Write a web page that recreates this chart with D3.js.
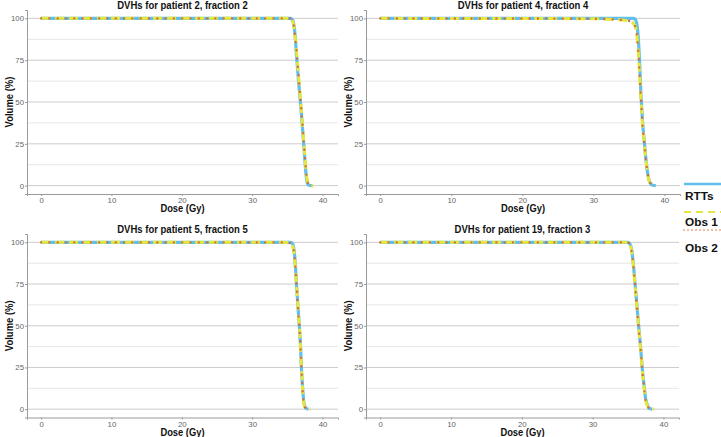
<!DOCTYPE html>
<html lang="en">
<head>
<meta charset="UTF-8">
<title>DVHs</title>
<script src="https://d3js.org/d3.v7.min.js"></script>
<style>
  body { margin: 0; background: #fff; }
  svg { font-family: "Liberation Sans", Arial, sans-serif; }
</style>
</head>
<body>
<div id="chart"></div>
<script>
// panel titles
const titles = [
    "DVHs for patient 2, fraction 2",
    "DVHs for patient 4, fraction 4",
    "DVHs for patient 5, fraction 5",
    "DVHs for patient 19, fraction 3"
];
const seriesNames = ["RTTs", "Obs 1", "Obs 2"];
const xTicks = [0, 10, 20, 30, 40];
const yTicks = [0, 25, 50, 75, 100];
const yMinor = [12.5, 37.5, 62.5, 87.5];

// dose (Gy) / volume (%), one array per panel and series
const p1Rtt  = [[0,100],[35.4,100],[35.7,99.5],[35.9,97],[36.1,90],[36.3,78],[36.6,62],[36.9,48],[37.2,32],[37.5,15],[37.7,5],[37.9,1],[38.2,0.1],[38.6,0]];
const p1Obs1 = [[0,100],[35.3,100],[35.6,99.3],[35.9,96],[36.1,89],[36.4,76],[36.7,60],[37.0,45],[37.3,28],[37.6,12],[37.8,4],[38.0,1],[38.3,0.1],[38.7,0]];
const p1Obs2 = [[0,100],[35.3,100],[35.6,99.3],[35.9,96],[36.1,89],[36.4,76],[36.7,60],[37.0,45],[37.3,28],[37.6,12],[37.8,4],[38.0,1],[38.3,0.1],[38.4,0]];

const p2Rtt  = [[0,100],[35.6,100],[35.9,99.5],[36.1,97],[36.3,90],[36.5,75],[36.7,55],[36.9,40],[37.2,25],[37.5,12],[37.8,4],[38.1,1],[38.4,0.2],[38.8,0]];
const p2Obs1 = [[0,100],[30,99.8],[33,99.3],[34.5,98.8],[35.3,98],[35.8,96],[36.1,91],[36.3,82],[36.5,68],[36.7,52],[36.9,38],[37.2,24],[37.5,12],[37.8,4],[38.1,1],[38.6,0]];
const p2Obs2 = [[0,100],[30,99.8],[33,99.3],[34.5,98.8],[35.3,98],[35.8,96],[36.1,91],[36.3,82],[36.5,68],[36.7,52],[36.9,38],[37.2,24],[37.5,12],[37.8,4],[38.1,1],[38.5,0]];

const p3Rtt  = [[0,100],[35.4,100],[35.7,99.5],[35.9,97],[36.1,89],[36.3,75],[36.5,62],[36.7,50],[36.9,36],[37.0,25],[37.2,11],[37.4,3],[37.7,0.4],[38.0,0]];
const p3Obs1 = [[0,100],[34.5,100],[35.3,99.5],[35.8,97],[36.1,88],[36.3,75],[36.5,62],[36.7,50],[36.9,35],[37.0,25],[37.2,10],[37.4,2],[37.7,0.3],[38.3,0]];
const p3Obs2 = [[0,100],[34.8,100],[35.4,99.5],[35.8,97],[36.1,88],[36.3,75],[36.5,62],[36.7,50],[36.9,35],[37.0,25],[37.2,10],[37.4,2],[37.7,0.3],[38.2,0]];

const p4Rtt  = [[0,100],[34.9,100],[35.2,99.5],[35.5,96],[35.8,85],[36.0,75],[36.3,60],[36.5,50],[36.8,36],[37.0,25],[37.3,13],[37.5,6],[37.8,2],[38.0,0.5],[38.4,0]];
const p4Obs1 = [[0,100],[34.9,100],[35.2,99.3],[35.5,95],[35.8,84],[36.0,74],[36.3,59],[36.5,49],[36.8,35],[37.0,24],[37.3,12],[37.5,5],[37.8,1.5],[38.0,0.4],[38.7,0]];
const p4Obs2 = [[0,100],[34.9,100],[35.2,99.3],[35.5,95],[35.8,84],[36.0,74],[36.3,59],[36.5,49],[36.8,35],[37.0,24],[37.3,12],[37.5,5],[37.8,1.5],[38.0,0.4],[38.5,0]];

const panelData = [
    [p1Rtt, p1Obs1, p1Obs2],
    [p2Rtt, p2Obs1, p2Obs2],
    [p3Rtt, p3Obs1, p3Obs2],
    [p4Rtt, p4Obs1, p4Obs2]
];

const width = 721;
const height = 437;

// plot boxes for the four panels
const boxes = [
    { x0: 27,  x1: 338, y0: 10,  y1: 194 },
    { x0: 366, x1: 680, y0: 10,  y1: 194 },
    { x0: 27,  x1: 338, y0: 234, y1: 417.5 },
    { x0: 366, x1: 679, y0: 234, y1: 417.5 }
];

// line styles per series
const styles = [
    { color: "#62bfec", width: 3.2, dash: null, cap: "butt" },
    { color: "#e6e63c", width: 3.0, dash: "9,5", cap: "butt" },
    { color: "#cd6f3c", width: 2.4, dash: "0,8.3", cap: "round" }
];

const svg = d3.select("#chart").append("svg")
    .attr("width", width)
    .attr("height", height);

// the titles in the picture are narrower than the font, squeeze them a bit
function squeeze(sel, f) {
    sel.each(function() {
        const w = this.getComputedTextLength();
        d3.select(this).attr("textLength", w * f).attr("lengthAdjust", "spacingAndGlyphs");
    });
}

boxes.forEach((b, i) => {
    const g = svg.append("g");

    const x = d3.scaleLinear().domain([-2, 42.2]).range([b.x0, b.x1]);
    const y = d3.scaleLinear().domain([-5, 105]).range([b.y1, b.y0]);

    // gridlines
    g.selectAll(".minor").data(yMinor).enter().append("line")
        .attr("x1", b.x0).attr("x2", b.x1)
        .attr("y1", d => y(d)).attr("y2", d => y(d))
        .attr("stroke", "#e0e0e0").attr("stroke-width", 0.8);
    g.selectAll(".major").data(yTicks).enter().append("line")
        .attr("x1", b.x0).attr("x2", b.x1)
        .attr("y1", d => y(d)).attr("y2", d => y(d))
        .attr("stroke", "#cccccc").attr("stroke-width", 1);

    // axes
    const xAxis = d3.axisBottom(x).tickValues(xTicks).tickSize(2).tickPadding(1.5);
    const yAxis = d3.axisLeft(y).tickValues(yTicks).tickSize(2).tickPadding(1);

    const gx = g.append("g").attr("transform", `translate(0,${b.y1})`).call(xAxis);
    const gy = g.append("g").attr("transform", `translate(${b.x0},0)`).call(yAxis);
    [gx, gy].forEach(a => {
        a.select(".domain").attr("stroke", "#9a9a9a").attr("stroke-width", 1);
        a.selectAll(".tick line").attr("stroke", "#9a9a9a");
        a.selectAll(".tick text").attr("fill", "#666").attr("font-size", 7.8)
            .attr("font-family", "Liberation Sans, Arial, sans-serif");
    });

    // series
    const line = d3.line()
        .x(d => x(d[0]))
        .y(d => y(d[1]))
        .curve(d3.curveMonotoneX);

    panelData[i].forEach((s, k) => {
        const st = styles[k];
        g.append("path")
            .datum(s)
            .attr("d", line)
            .attr("fill", "none")
            .attr("stroke", st.color)
            .attr("stroke-width", st.width)
            .attr("stroke-linecap", st.cap)
            .attr("stroke-dasharray", st.dash);
    });

    // titles
    const cx = (b.x0 + b.x1) / 2;
    g.append("text")
        .attr("x", cx).attr("y", b.y0 - 1)
        .attr("text-anchor", "middle")
        .attr("font-size", 10.7).attr("font-weight", "bold")
        .attr("fill", "#111")
        .text(titles[i])
        .call(squeeze, 0.89);

    g.append("text")
        .attr("x", cx).attr("y", b.y1 + 18)
        .attr("text-anchor", "middle")
        .attr("font-size", 11).attr("font-weight", "bold")
        .attr("fill", "#111")
        .text("Dose (Gy)")
        .call(squeeze, 0.85);

    const ly = (b.y0 + b.y1) / 2;
    g.append("text")
        .attr("transform", `translate(${b.x0 - 14},${ly}) rotate(-90)`)
        .attr("text-anchor", "middle")
        .attr("font-size", 11).attr("font-weight", "bold")
        .attr("fill", "#111")
        .text("Volume (%)")
        .call(squeeze, 0.86);
});

// legend
const legendKeys = [
    { ly: 184, ty: 199.5, color: "#62bfec", width: 2.4, dash: null, cap: "butt" },
    { ly: 212, ty: 226, color: "#e6e63c", width: 2.2, dash: "7,5", cap: "butt" },
    { ly: 230, ty: 251.5, color: "#d0602a", width: 1.5, dash: "0,4", cap: "round" }
];

const legend = svg.append("g");
legendKeys.forEach((k, i) => {
    legend.append("line")
        .attr("x1", 684).attr("x2", 721)
        .attr("y1", k.ly).attr("y2", k.ly)
        .attr("stroke", k.color)
        .attr("stroke-width", k.width)
        .attr("stroke-linecap", k.cap)
        .attr("stroke-dasharray", k.dash);
    legend.append("text")
        .attr("x", 685).attr("y", k.ty)
        .attr("font-size", 11.8).attr("font-weight", "bold")
        .attr("fill", "#111")
        .text(seriesNames[i]);
});
</script>
</body>
</html>
